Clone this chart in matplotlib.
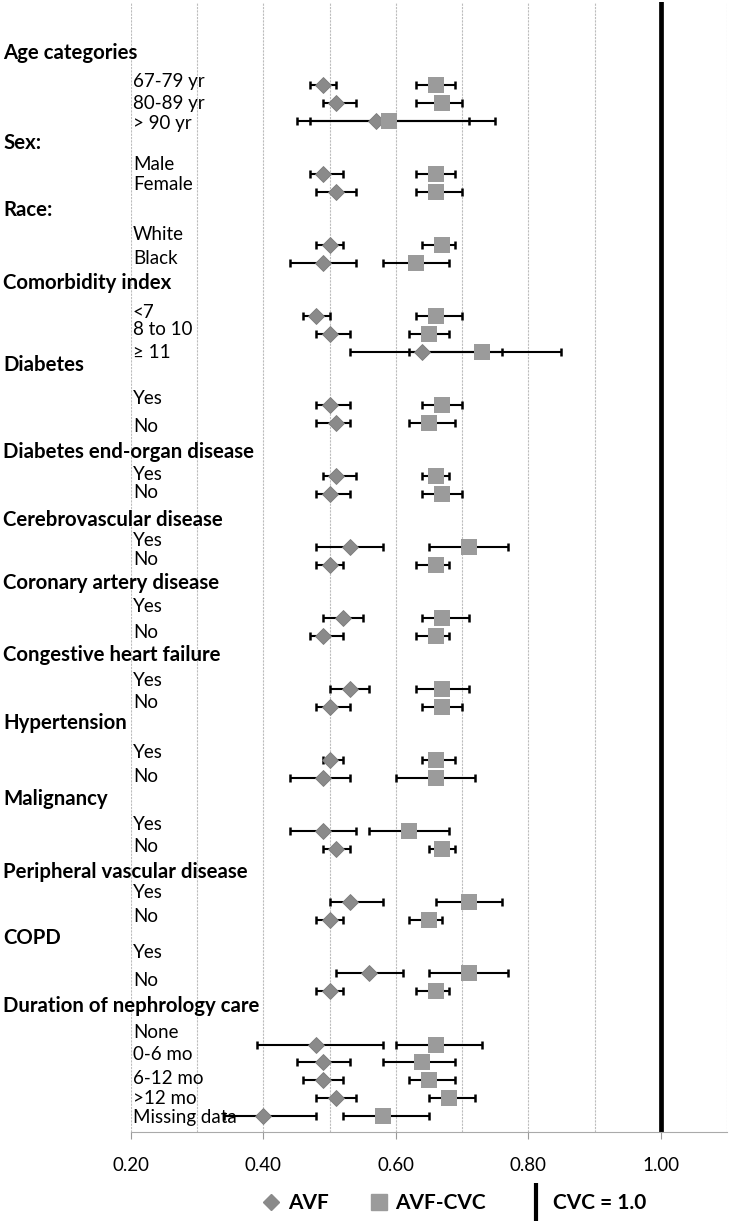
import matplotlib
matplotlib.use("Agg")
import matplotlib.pyplot as plt
from matplotlib.lines import Line2D

plt.rcParams['font.family'] = ['Lato', 'DejaVu Sans']

# categories
groups = ["Age categories", "Sex:", "Race:", "Comorbidity index", "Diabetes",
          "Diabetes end-organ disease", "Cerebrovascular disease",
          "Coronary artery disease", "Congestive heart failure", "Hypertension",
          "Malignancy", "Peripheral vascular disease", "COPD",
          "Duration of nephrology care"]
subgroups = [["67-79 yr", "80-89 yr", "> 90 yr"],
             ["Male", "Female"],
             ["White", "Black"],
             ["<7", "8 to 10", "\u2265 11"],
             ["Yes", "No"], ["Yes", "No"], ["Yes", "No"], ["Yes", "No"],
             ["Yes", "No"], ["Yes", "No"], ["Yes", "No"], ["Yes", "No"],
             ["Yes", "No"],
             ["None", "0-6 mo", "6-12 mo", ">12 mo", "Missing data"]]

# hazard ratios (row order follows subgroups)
avf    = [0.49, 0.51, 0.57, 0.49, 0.51, 0.50, 0.49, 0.48, 0.50, 0.64, 0.50, 0.51, 0.51, 0.50,
          0.53, 0.50, 0.52, 0.49, 0.53, 0.50, 0.50, 0.49, 0.49, 0.51, 0.53, 0.50, 0.56, 0.50,
          0.48, 0.49, 0.49, 0.51, 0.40]
avf_lo = [0.47, 0.49, 0.45, 0.47, 0.48, 0.48, 0.44, 0.46, 0.48, 0.53, 0.48, 0.48, 0.49, 0.48,
          0.48, 0.48, 0.49, 0.47, 0.50, 0.48, 0.49, 0.44, 0.44, 0.49, 0.50, 0.48, 0.51, 0.48,
          0.39, 0.45, 0.46, 0.48, 0.34]
avf_hi = [0.51, 0.54, 0.71, 0.52, 0.54, 0.52, 0.54, 0.50, 0.53, 0.76, 0.53, 0.53, 0.54, 0.53,
          0.58, 0.52, 0.55, 0.52, 0.56, 0.53, 0.52, 0.53, 0.54, 0.53, 0.58, 0.52, 0.61, 0.52,
          0.58, 0.53, 0.52, 0.54, 0.48]
cvc    = [0.66, 0.67, 0.59, 0.66, 0.66, 0.67, 0.63, 0.66, 0.65, 0.73, 0.67, 0.65, 0.66, 0.67,
          0.71, 0.66, 0.67, 0.66, 0.67, 0.67, 0.66, 0.66, 0.62, 0.67, 0.71, 0.65, 0.71, 0.66,
          0.66, 0.64, 0.65, 0.68, 0.58]
cvc_lo = [0.63, 0.63, 0.47, 0.63, 0.63, 0.64, 0.58, 0.63, 0.62, 0.62, 0.64, 0.62, 0.64, 0.64,
          0.65, 0.63, 0.64, 0.63, 0.63, 0.64, 0.64, 0.60, 0.56, 0.65, 0.66, 0.62, 0.65, 0.63,
          0.60, 0.58, 0.62, 0.65, 0.52]
cvc_hi = [0.69, 0.70, 0.75, 0.69, 0.70, 0.69, 0.68, 0.70, 0.68, 0.85, 0.70, 0.69, 0.68, 0.70,
          0.77, 0.68, 0.71, 0.68, 0.71, 0.70, 0.69, 0.72, 0.68, 0.69, 0.76, 0.67, 0.77, 0.68,
          0.73, 0.69, 0.69, 0.72, 0.65]
xticks = [0.2, 0.4, 0.6, 0.8, 1.0]
ref = 1.0

# label placement (pixel centres in the 730x1224 image)
head_ypx = [53, 143, 210, 283, 365, 452, 520, 583, 655, 723, 799, 872, 938, 1006]
sub_ypx = [[82, 103, 123], [164, 185], [234, 258], [312, 330, 352], [399, 426],
           [475, 493], [540, 560], [607, 632], [680, 702], [752, 777], [825, 847],
           [893, 917], [953, 980], [1033, 1054, 1079, 1099, 1117]]

# row slots: header, blank, items
rows = []
s = 0
for sg in subgroups:
    for i in range(len(sg)):
        rows.append(s + 2 + i)
    s += 2 + len(sg)

W, H = 730, 1224
fig = plt.figure(figsize=(W / 100, H / 100), dpi=100)
ax = fig.add_axes([131 / W, 1 - 1132 / H, (727 - 131) / W, 1130 / H])
ax.set_xlim(0.2, 1.1)
ax.set_ylim(60.92, -2.673)

for x in [0.2 + 0.1 * k for k in range(10)]:
    ax.axvline(x, color='#bdbdbd', lw=0.8, ls=(0, (2, 1)), zorder=0)
ax.axvline(ref, color='black', lw=3.4, zorder=1)

ax.errorbar(avf, rows, xerr=[[a - l for a, l in zip(avf, avf_lo)], [h - a for a, h in zip(avf, avf_hi)]],
            fmt='none', ecolor='black', elinewidth=1.5, capsize=3.2, capthick=1.8, zorder=2)
ax.errorbar(cvc, rows, xerr=[[c - l for c, l in zip(cvc, cvc_lo)], [h - c for c, h in zip(cvc, cvc_hi)]],
            fmt='none', ecolor='black', elinewidth=1.5, capsize=3.2, capthick=1.8, zorder=2)
ax.plot(avf, rows, 'D', color='#8a8a8a', ms=7.8, mec='#7a7a7a', mew=0.6, zorder=3)
ax.plot(cvc, rows, 's', color='#9b9b9b', ms=12.2, mec='#9b9b9b', mew=0, zorder=4)

ax.set_xticks(xticks)
ax.set_xticklabels(["%.2f" % t for t in xticks])
ax.set_yticks([])
ax.tick_params(axis='x', length=5, color='#999999', pad=13, labelsize=13.5)
for sp in ['top', 'right', 'left']:
    ax.spines[sp].set_visible(False)
ax.spines['bottom'].set_color('#aaaaaa')

for g, y in zip(groups, head_ypx):
    fig.text(3 / W, 1 - y / H, g, fontsize=14.7, fontweight='bold', va='center', ha='left')
for sg, ys in zip(subgroups, sub_ypx):
    for lab, y in zip(sg, ys):
        fig.text(133 / W, 1 - y / H, lab, fontsize=13.5, va='center', ha='left')

handles = [Line2D([], [], marker='D', color='#8a8a8a', ls='none', ms=8),
           Line2D([], [], marker='s', color='#9b9b9b', ls='none', ms=12),
           Line2D([], [], marker='|', color='black', ls='none', ms=28, mew=3)]
fig.legend(handles, ["AVF", "AVF-CVC", "CVC = 1.0"], loc='center left',
           bbox_to_anchor=(242 / W, 1 - 1203 / H), ncol=3, frameon=False,
           prop={'weight': 'bold', 'size': 15}, handlelength=1.0,
           handletextpad=0.3, columnspacing=1.9)

fig.savefig('out.png', dpi=100)
